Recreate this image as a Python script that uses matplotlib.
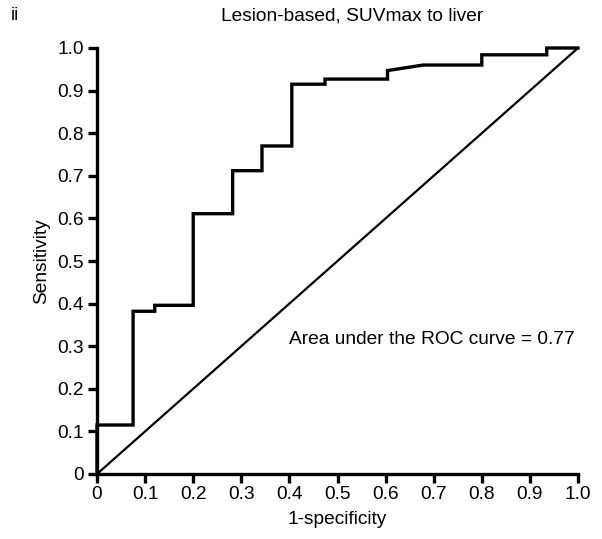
import matplotlib
matplotlib.use("Agg")
import matplotlib.pyplot as plt

plt.rcParams['font.family'] = ['Liberation Sans', 'DejaVu Sans']

# ROC curve vertices (1-specificity, sensitivity)
fpr = [0.0, 0.0, 0.075, 0.075, 0.12, 0.12, 0.20, 0.20, 0.282, 0.282, 0.343, 0.343,
       0.405, 0.405, 0.474, 0.474, 0.604, 0.604, 0.678, 0.80, 0.80, 0.935, 0.935, 1.0]
tpr = [0.0, 0.115, 0.115, 0.382, 0.382, 0.396, 0.396, 0.611, 0.611, 0.712, 0.712, 0.770,
       0.770, 0.915, 0.915, 0.927, 0.927, 0.947, 0.960, 0.960, 0.984, 0.984, 1.0, 1.0]
ref_x = [0.0, 1.0]
ref_y = [0.0, 1.0]
ticks = [0.0, 0.1, 0.2, 0.3, 0.4, 0.5, 0.6, 0.7, 0.8, 0.9, 1.0]
tick_labels = ['0', '0.1', '0.2', '0.3', '0.4', '0.5', '0.6', '0.7', '0.8', '0.9', '1.0']
auc_text = 'Area under the ROC curve = 0.77'

fs = 13.8
fig = plt.figure(figsize=(6.02, 5.39), dpi=100)
ax = fig.add_axes([97/602, 1 - 474/539, (578-97)/602, (474-48)/539])

ax.plot(ref_x, ref_y, color='black', lw=1.6, clip_on=False, solid_capstyle='butt')
ax.plot(fpr, tpr, color='black', lw=2.4, clip_on=False, solid_joinstyle='miter')

ax.set_xlim(0, 1)
ax.set_ylim(0, 1)
ax.set_xticks(ticks)
ax.set_xticklabels(tick_labels)
ax.set_yticks(ticks)
ax.set_yticklabels(tick_labels)
for s in ['top', 'right']:
    ax.spines[s].set_visible(False)
for s in ['left', 'bottom']:
    ax.spines[s].set_linewidth(2.4)
    ax.spines[s].set_capstyle('projecting')
ax.tick_params(direction='out', length=6.5, width=2.4, labelsize=fs, colors='black')
ax.tick_params(axis='y', pad=3)
ax.tick_params(axis='x', pad=2)

ax.set_xlabel('1-specificity', fontsize=fs, labelpad=6)
ax.set_ylabel('Sensitivity', fontsize=fs, labelpad=5)

ax.text(0.40, 0.316, auc_text, fontsize=fs, ha='left', va='center')
fig.text(352/602, 1 - 16/539, 'Lesion-based, SUVmax to liver', fontsize=fs, ha='center', va='center')
fig.text(15/602, 1 - 16/539, 'ii', fontsize=fs, ha='center', va='center')

fig.savefig('out.png', dpi=100)
